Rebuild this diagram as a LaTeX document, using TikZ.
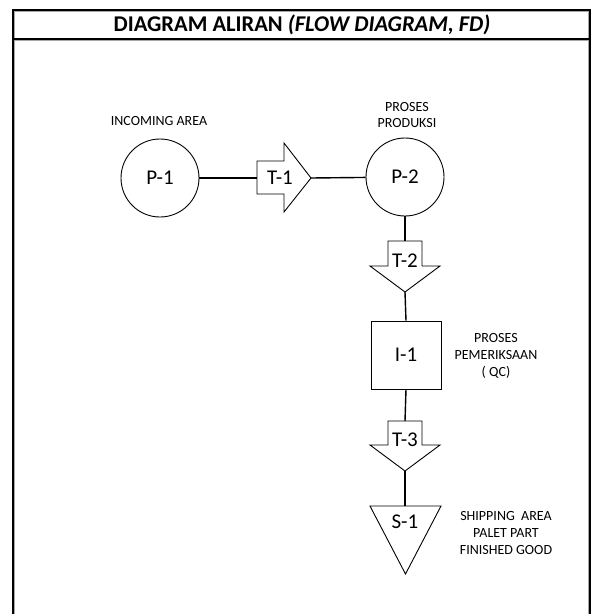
\documentclass[tikz,border=0pt]{standalone}
\usepackage{fontspec}
\setmainfont{Carlito}
\begin{document}
\begin{tikzpicture}[x=1pt,y=-1pt,
  frame/.style={line width=1.8pt,black},
  frameshade/.style={line width=0.9pt,gray!70},
  shp/.style={draw,line width=0.9pt},
  conn/.style={line width=1.4pt},
  lbl/.style={font=\fontsize{21}{24}\selectfont,inner sep=0pt},
  note/.style={font=\fontsize{14}{17}\selectfont,align=center,inner sep=0pt},
  proc/.style={shp,circle,minimum size=78pt,inner sep=0pt,font=\fontsize{21}{24}\selectfont},
]
\useasboundingbox (0,0) rectangle (593,614);
% frame
\draw[frameshade] (14.6,614) -- (14.6,11.6) -- (588.4,11.6) -- (588.4,614);
\draw[frameshade] (14.6,40.6) -- (588.4,40.6);
\draw[frame] (13,614) -- (13,10) -- (590,10) -- (590,614);
\draw[frame] (13,39) -- (590,39);
\node[font=\bfseries\fontsize{22.5}{26}\selectfont,inner sep=0pt] (title) at (302,25)
  {DIAGRAM ALIRAN \textit{(FLOW DIAGRAM, FD)}};

% P-1 and P-2
\node[proc] (P1) at (160,178) {P-1};
\node[proc] (P2) at (405,177) {P-2};
\node[note] (P1lab) at (159,121) {INCOMING AREA};
\node[note,font=\fontsize{14}{16}\selectfont] (P2lab) at (407,115) {PROSES\\PRODUKSI};

% T-1 (right arrow)
\draw[shp] (257,161) -- (284,161) -- (284,143) -- (311,178) -- (284,212) -- (284,194) -- (257,194) -- cycle;
\coordinate (T1in) at (257,178);
\coordinate (T1tip) at (311,178);
\node[lbl] (T1) at (280,178) {T-1};

% T-2 (down arrow)
\draw[shp] (388,241) -- (422,241) -- (422,266) -- (440,266) -- (405,292) -- (370,266) -- (388,266) -- cycle;
\coordinate (T2in) at (405,241);
\coordinate (T2tip) at (405,292);
\node[lbl] (T2) at (405,261) {T-2};

% I-1
\node[shp,rectangle,minimum width=70pt,minimum height=68pt,inner sep=0pt,font=\fontsize{21}{24}\selectfont] (I1) at (406,355) {I-1};
\node[note] (I1lab) at (496,356) {PROSES\\PEMERIKSAAN\\( QC)};

% T-3 (down arrow)
\draw[shp] (388,421) -- (422,421) -- (422,445) -- (440,445) -- (405,471) -- (370,445) -- (388,445) -- cycle;
\coordinate (T3in) at (405,421);
\coordinate (T3tip) at (405,471);
\node[lbl] (T3) at (405,440) {T-3};

% S-1 (storage triangle)
\draw[shp] (370,506) -- (441,506) -- (405.5,574) -- cycle;
\coordinate (S1top) at (405,506);
\node[lbl] (S1) at (405,522) {S-1};
\node[note] (S1lab) at (506,533) {SHIPPING\ \ AREA\\PALET PART\\FINISHED GOOD};

% connectors
\draw[conn] (P1) -- (T1in);
\draw[conn] (T1tip) -- (P2);
\draw[conn] (P2.south) -- (T2in);
\draw[conn] (T2tip) -- (I1.north);
\draw[conn] (I1.south) -- (T3in);
\draw[conn] (T3tip) -- (S1top);
\end{tikzpicture}
\end{document}
